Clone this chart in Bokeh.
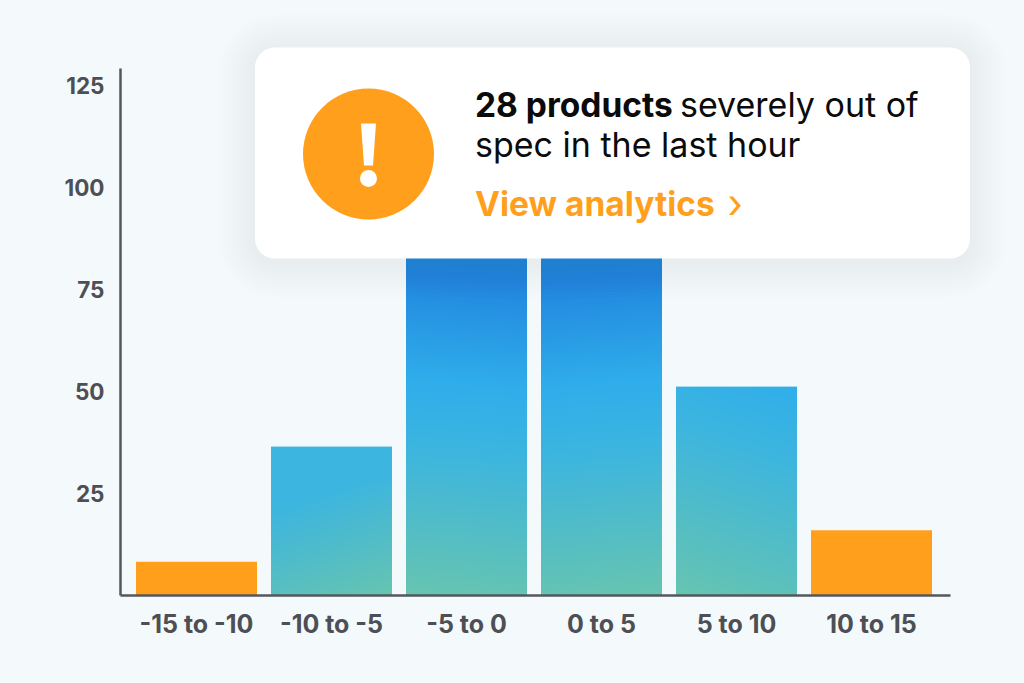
import numpy as np
from bokeh.plotting import figure
from bokeh.models import Range1d, FixedTicker, ColumnDataSource
from bokeh.core.properties import value
from bokeh.embed import file_html
from bokeh.resources import INLINE

categories = ["-15 to -10", "-10 to -5", "-5 to 0", "0 to 5", "5 to 10", "10 to 15"]
counts = [8.3, 36.5, 96, 92, 51.2, 16]
orange_bins = [0, 5]
y_ticks = [25, 50, 75, 100, 125]
# colour stops of the bar fill: height in px above the baseline, colour
stop_h = [0, 150, 215, 340, 500]
stop_rgb = [(0x67, 0xC5, 0xB1), (0x3C, 0xB5, 0xE0), (0x30, 0xAE, 0xEB), (0x1F, 0x80, 0xDC), (0x1F, 0x80, 0xDC)]
tilt_left = [0, 0.33, 0, 0.08, 0, 0]
tilt_right = [0, 0, 0.08, 0, 0.33, 0]
ramp = [1, 1.2, 1, 1, 0.85, 1]
cap = [500, 150, 500, 500, 215, 500]

BG = "#F4FAFB"
ORANGE = "#FF9F1C"
AXIS = "#55575C"
TICK = "#4D4F55"
FONT = "Inter"

# page geometry
PX_PER_UNIT = 4.08
BASE = 595.0
X0 = 196.0
PITCH = 135.0
BAR_W = 121.0
F_L, F_R, F_T = 120.0, 1024.0, 0.0
W, H = 1024, 683


def fx(px):
    return (px - X0) / PITCH


def fy(py):
    return (BASE - py) / PX_PER_UNIT


p = figure(width=W, height=H, output_backend="svg", toolbar_location=None,
           x_range=Range1d(fx(F_L), fx(F_R)), y_range=Range1d(fy(BASE), fy(F_T)),
           background_fill_color=BG, border_fill_color=BG,
           min_border_left=int(F_L), min_border_right=0, min_border_top=0,
           min_border_bottom=int(H - BASE))
p.outline_line_color = None
p.grid.visible = False

xa, ya = p.xaxis[0], p.yaxis[0]
xa.ticker = FixedTicker(ticks=list(range(len(categories))))
xa.major_label_overrides = {i: c for i, c in enumerate(categories)}
xa.bounds = (fx(F_L), fx(950))
ya.ticker = FixedTicker(ticks=y_ticks)
ya.bounds = (0, fy(68))
for a in (xa, ya):
    a.axis_line_color = AXIS
    a.axis_line_width = 2.5
    a.major_tick_line_color = None
    a.minor_tick_line_color = None
    a.major_label_text_font = FONT
    a.major_label_text_font_style = "bold"
    a.major_label_text_color = TICK
xa.major_label_text_font_size = "25px"
ya.major_label_text_font_size = "22.5px"
xa.major_label_standoff = 7
ya.major_label_standoff = 10

# bars
bw = BAR_W / PITCH
for i, v in enumerate(counts):
    if i in orange_bins:
        continue
    h_px = int(round(v * PX_PER_UNIT))
    w_px = int(BAR_W)
    yy, xx = np.mgrid[0:h_px, 0:w_px]
    t = (yy + tilt_left[i] * (w_px - 1 - xx) + tilt_right[i] * xx) * ramp[i]
    t = np.clip(t, 0, cap[i])
    img = np.zeros((h_px, w_px, 4), dtype=np.uint8)
    for c in range(3):
        img[..., c] = np.interp(t, stop_h, [s[c] for s in stop_rgb]).astype(np.uint8)
    img[..., 3] = 255
    rgba = img.view(dtype=np.uint32).reshape(h_px, w_px)
    p.image_rgba(image=[rgba], x=[i - bw / 2], y=[0], dw=[bw], dh=[v])

src = ColumnDataSource(dict(x=[int(i) for i in orange_bins], top=[counts[i] for i in orange_bins]))
p.vbar(x="x", top="top", bottom=0, width=bw, source=src, fill_color=ORANGE, line_color=None)

# card with a soft shadow
C_L, C_R, C_T, C_B = 254.5, 969.5, 47.0, 258.0
for s in range(36, 0, -3):
    p.quad(left=[fx(C_L - s)], right=[fx(C_R + s)], top=[fy(C_T - s + 3)], bottom=[fy(C_B + s + 3)],
           fill_color="#5A6A75", fill_alpha=0.008, line_color=None, border_radius=20 + s)
p.quad(left=[fx(C_L)], right=[fx(C_R)], top=[fy(C_T)], bottom=[fy(C_B)],
       fill_color="#FFFFFF", line_color=None, border_radius=20)

# icon
p.scatter(x=[fx(368)], y=[fy(153.5)], size=131, marker="circle", fill_color=ORANGE, line_color=None)
p.patch(x=[fx(v) for v in (360.5, 375.5, 372.5, 363.5)], y=[fy(v) for v in (123, 123, 165, 165)],
        fill_color="#FFFFFF", line_color=None)
p.scatter(x=[fx(368)], y=[fy(178)], size=17, marker="circle", fill_color="#FFFFFF", line_color=None)


def put(px, py, s, color, style, size):
    p.text(x=[fx(px)], y=[fy(py)], text=[s], text_color=color, text_font=value(FONT),
           text_font_style=style, text_font_size=size, text_baseline="alphabetic", text_align="left")


put(474.5, 104, "28 products", "#0B0B0C", "bold", "33.5px")
put(679.5, 104, "severely out of", "#0B0B0C", "normal", "34px")
put(474.5, 144, "spec in the last hour", "#0B0B0C", "normal", "34px")
put(474.5, 203, "View analytics", ORANGE, "bold", "33.5px")
put(727, 203, "›", ORANGE, "normal", "40px")

html = file_html(p, INLINE)
html = html.replace("<head>", "<head><style>html,body{background:%s;overflow:hidden}</style>" % BG, 1)
open("out.html", "w").write(html)
